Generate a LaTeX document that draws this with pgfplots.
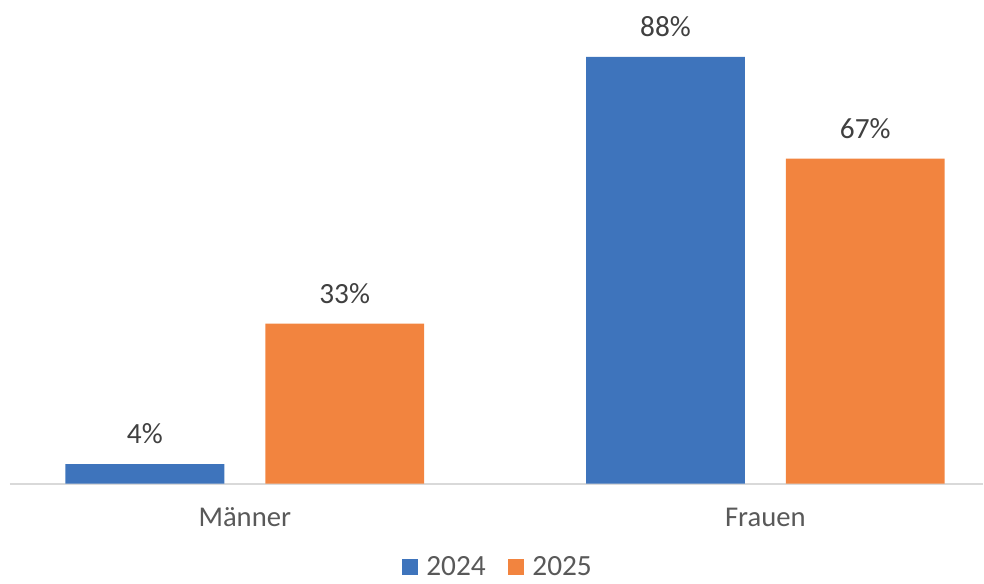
\documentclass[border=0pt]{standalone}
\usepackage{fontspec}
\setmainfont{Carlito}
\usepackage{pgfplots}
\pgfplotsset{compat=1.18}
\definecolor{barblue}{HTML}{3E74BC}
\definecolor{barorange}{HTML}{F2843F}
\definecolor{labgray}{HTML}{404040}
\definecolor{catgray}{HTML}{595959}
\definecolor{axisgray}{HTML}{D9D9D9}

\begin{document}
\begin{tikzpicture}
\begin{axis}[
  scale only axis,
  width=730.5pt, height=345.75pt,
  xmin=-0.451, xmax=1.418, ymin=0, ymax=95,
  ybar, bar width=119.25pt,
  axis y line=none,
  axis x line*=bottom,
  x axis line style={draw=axisgray, line width=1.5pt},
  xtick={0,1}, xticklabels={Männer, Frauen},
  major tick length=0pt,
  xticklabel style={font=\fontsize{21.5}{24}\selectfont, text=catgray,
                    anchor=north, inner sep=0pt, yshift=-18pt},
  /pgf/number format/assume math mode=true,
  nodes near coords={\pgfmathprintnumber{\pgfplotspointmeta}\%},
  nodes near coords style={font=\fontsize{22}{24}\selectfont, text=labgray,
                           anchor=south, inner sep=0pt, yshift=15pt},
  clip=false,
  legend style={draw=none, at={(0.502,-0.182)}, anchor=center,
                legend columns=2, font=\fontsize{22}{24}\selectfont,
                text=catgray,
                /tikz/every even column/.append style={column sep=15pt}},
  legend image code/.code={
    \draw[#1, draw=none] (0pt,-6pt) rectangle (12pt,6pt);
    \path (0pt,0pt) (16pt,0pt);},
]
\addplot[fill=barblue, draw=none, bar shift=-75pt]
  coordinates {(0,4) (1,88)};
\addlegendentry{2024}
\addplot[fill=barorange, draw=none, bar shift=75pt]
  coordinates {(0,33) (1,67)};
\addlegendentry{2025}
\end{axis}
\useasboundingbox (-7.5pt,-71.25pt) rectangle (730.5pt,363pt);
\end{tikzpicture}
\end{document}
